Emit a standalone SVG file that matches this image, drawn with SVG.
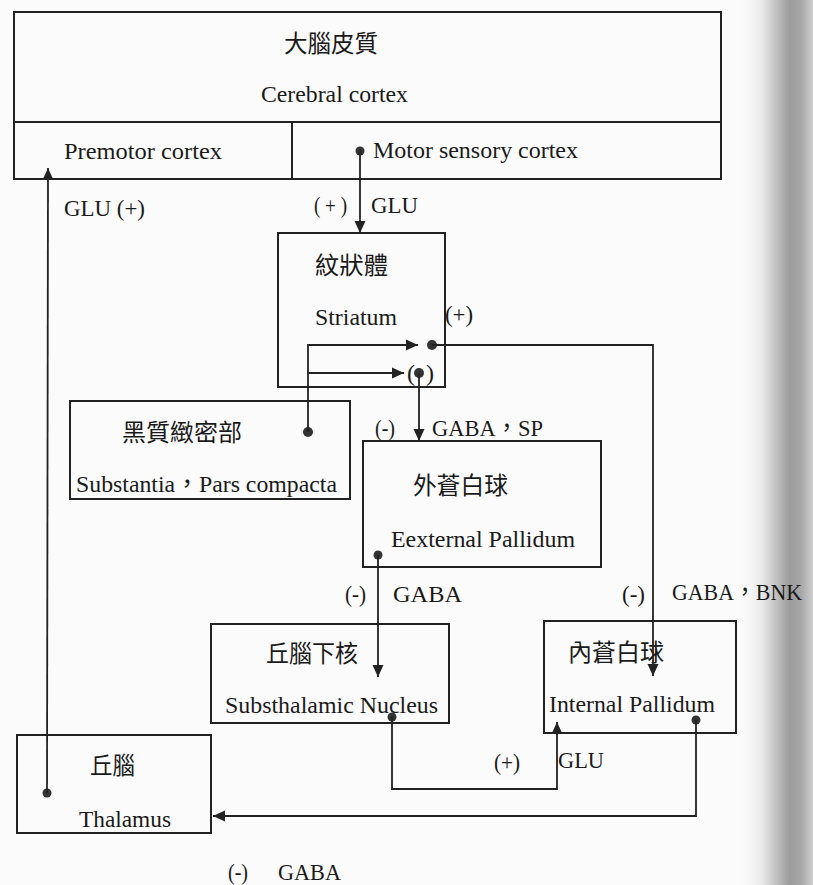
<svg xmlns="http://www.w3.org/2000/svg" width="813" height="885" viewBox="0 0 813 885">
<style>
.box{fill:none;stroke:#222;stroke-width:2}
.ln{fill:none;stroke:#222;stroke-width:1.8}
.dot{fill:#333}
.en{font-family:"Liberation Serif","Noto Sans CJK TC",serif;font-size:24px;fill:#1a1a1a}
.zh{font-family:"Noto Sans CJK TC","Noto Sans CJK SC",sans-serif;font-size:24px;fill:#1a1a1a}
</style>
<defs>
<marker id="arr" markerWidth="12" markerHeight="12" viewBox="0 0 12 12" refX="12" refY="6" orient="auto" markerUnits="userSpaceOnUse">
<path d="M0,0.5 L12,6 L0,11.5 Z" fill="#222"/>
</marker>
<linearGradient id="edge" x1="0" y1="0" x2="1" y2="0">
<stop offset="0" stop-color="#fbfbfb" stop-opacity="0"/>
<stop offset="0.35" stop-color="#e8e8e8"/>
<stop offset="0.7" stop-color="#9c9c9c"/>
<stop offset="0.85" stop-color="#a8a8a8"/>
<stop offset="1" stop-color="#d0d0d0"/>
</linearGradient>
</defs>
<rect x="0" y="0" width="813" height="885" fill="#fbfbfb"/>
<rect x="735" y="0" width="78" height="885" fill="url(#edge)"/>

<g id="cortex">
<rect class="box" x="14" y="12" width="707" height="167"/>
<line class="box" x1="14" y1="122" x2="721" y2="122"/>
<line class="box" x1="292" y1="122" x2="292" y2="179"/>
<text class="zh" x="284" y="52" textLength="94" lengthAdjust="spacingAndGlyphs">大腦皮質</text>
<text class="en" x="261" y="102" textLength="147" lengthAdjust="spacingAndGlyphs">Cerebral cortex</text>
<text class="en" x="64" y="159" textLength="158" lengthAdjust="spacingAndGlyphs">Premotor cortex</text>
<text class="en" x="373" y="158" textLength="205" lengthAdjust="spacingAndGlyphs">Motor sensory cortex</text>
</g>

<g id="striatum">
<rect class="box" x="278" y="233" width="167" height="154"/>
<text class="zh" x="315" y="274" textLength="73" lengthAdjust="spacingAndGlyphs">紋狀體</text>
<text class="en" x="315" y="325" textLength="82" lengthAdjust="spacingAndGlyphs">Striatum</text>
</g>

<g id="substantia">
<rect class="box" x="70" y="401" width="280" height="98"/>
<text class="zh" x="122" y="441" textLength="120" lengthAdjust="spacingAndGlyphs">黑質緻密部</text>
<text class="en" x="76" y="492" textLength="261" lengthAdjust="spacingAndGlyphs">Substantia，Pars compacta</text>
</g>

<g id="external-pallidum">
<rect class="box" x="363" y="441" width="238" height="126"/>
<text class="zh" x="413" y="494" textLength="95" lengthAdjust="spacingAndGlyphs">外蒼白球</text>
<text class="en" x="391" y="547" textLength="184" lengthAdjust="spacingAndGlyphs">Eexternal Pallidum</text>
</g>

<g id="subthalamic-nucleus">
<rect class="box" x="211" y="624" width="238" height="99"/>
<text class="zh" x="266" y="662" textLength="92" lengthAdjust="spacingAndGlyphs">丘腦下核</text>
<text class="en" x="225" y="713" textLength="213" lengthAdjust="spacingAndGlyphs">Substhalamic Nucleus</text>
</g>

<g id="internal-pallidum">
<rect class="box" x="544" y="621" width="192" height="112"/>
<text class="zh" x="568" y="661" textLength="96" lengthAdjust="spacingAndGlyphs">內蒼白球</text>
<text class="en" x="549" y="712" textLength="166" lengthAdjust="spacingAndGlyphs">Internal Pallidum</text>
</g>

<g id="thalamus">
<rect class="box" x="17" y="735" width="194" height="98"/>
<text class="zh" x="90" y="774" textLength="45" lengthAdjust="spacingAndGlyphs">丘腦</text>
<text class="en" x="79" y="827" textLength="92" lengthAdjust="spacingAndGlyphs">Thalamus</text>
</g>

<g id="connectors">
<circle class="dot" cx="47" cy="793" r="4.5"/>
<path class="ln" d="M47,793 L48,168" marker-end="url(#arr)"/>
<circle class="dot" cx="360" cy="151" r="4.5"/>
<path class="ln" d="M360,151 L360,233" marker-end="url(#arr)"/>
<circle class="dot" cx="308" cy="432" r="5"/>
<path class="ln" d="M308,432 L308,345 L418,345" marker-end="url(#arr)"/>
<path class="ln" d="M308,373 L404,373" marker-end="url(#arr)"/>
<circle class="dot" cx="432" cy="345" r="5"/>
<path class="ln" d="M432,345 L653,345 L653,676" marker-end="url(#arr)"/>
<circle class="dot" cx="419" cy="373" r="5"/>
<path class="ln" d="M419,373 L419,441" marker-end="url(#arr)"/>
<circle class="dot" cx="378" cy="555" r="4.5"/>
<path class="ln" d="M378,555 L378,677" marker-end="url(#arr)"/>
<circle class="dot" cx="392" cy="717" r="4.5"/>
<path class="ln" d="M392,717 L392,789 L557,789 L557,722" marker-end="url(#arr)"/>
<circle class="dot" cx="696" cy="720" r="4.5"/>
<path class="ln" d="M696,720 L696,816 L213,816" marker-end="url(#arr)"/>

<text class="en" x="64" y="216" textLength="81" lengthAdjust="spacingAndGlyphs">GLU (+)</text>
<text class="en" x="314" y="213" textLength="33" lengthAdjust="spacingAndGlyphs">( + )</text>
<text class="en" x="371" y="213" textLength="47" lengthAdjust="spacingAndGlyphs">GLU</text>
<text class="en" x="445" y="322" textLength="28" lengthAdjust="spacingAndGlyphs">(+)</text>
<text class="en" x="407" y="381">(</text>
<text class="en" x="426" y="381">)</text>
<text class="en" x="375" y="436" textLength="20" lengthAdjust="spacingAndGlyphs">(-)</text>
<text class="en" x="432" y="436" textLength="111" lengthAdjust="spacingAndGlyphs">GABA，SP</text>
<text class="en" x="345" y="602" textLength="21" lengthAdjust="spacingAndGlyphs">(-)</text>
<text class="en" x="393" y="602" textLength="69" lengthAdjust="spacingAndGlyphs">GABA</text>
<text class="en" x="622" y="602" textLength="23" lengthAdjust="spacingAndGlyphs">(-)</text>
<text class="en" x="672" y="600" textLength="130" lengthAdjust="spacingAndGlyphs">GABA，BNK</text>
<text class="en" x="494" y="770" textLength="26" lengthAdjust="spacingAndGlyphs">(+)</text>
<text class="en" x="558" y="768" textLength="46" lengthAdjust="spacingAndGlyphs">GLU</text>
<text class="en" x="228" y="880" textLength="20" lengthAdjust="spacingAndGlyphs">(-)</text>
<text class="en" x="278" y="880" textLength="63" lengthAdjust="spacingAndGlyphs">GABA</text>
</g>
</svg>
